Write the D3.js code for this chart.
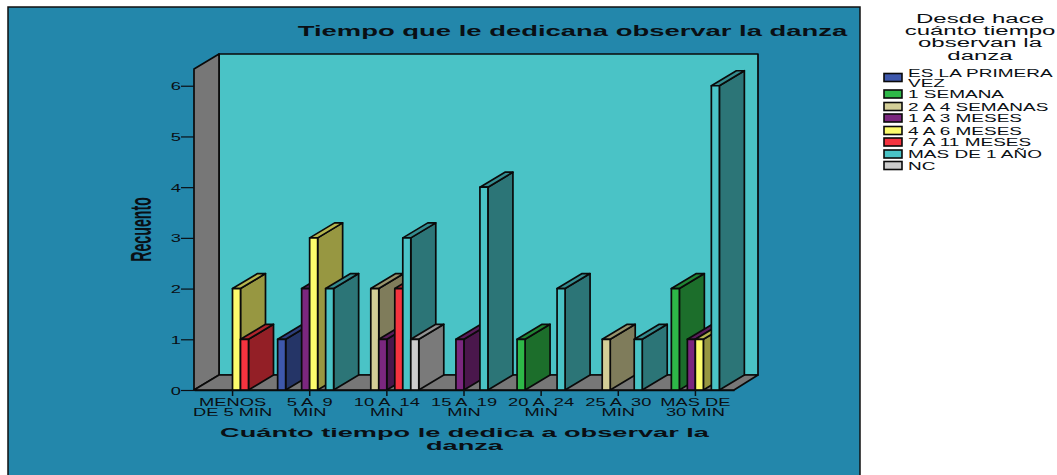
<!DOCTYPE html>
<html>
  <head>
    <meta charset="utf-8">
    <script src="https://d3js.org/d3.v7.min.js"></script>
    <title>Tiempo que le dedicana observar la danza</title>
    <style>
      body { margin: 0; background: #fff; overflow: hidden; }
      svg { display: block; }
      text { font-family: "Liberation Sans", Arial, sans-serif; fill: #0a0f14; white-space: pre; }
      .bold { font-weight: bold; }
    </style>
  </head>
  <body>
    <svg width="1057" height="475"></svg>
    <script>
      // data
      const categories = ['MENOS DE 5 MIN', '5 A 9 MIN', '10 A 14 MIN', '15 A 19 MIN', '20 A 24 MIN', '25 A 30 MIN', 'MAS DE 30 MIN'];
      const categoryLines = [['MENOS', 'DE 5 MIN'], ['5 A  9', 'MIN'], ['10 A  14', 'MIN'], ['15 A  19', 'MIN'], ['20 A  24', 'MIN'], ['25 A  30', 'MIN'], ['MAS DE', '30 MIN']];
      const seriesNames = ['ES LA PRIMERA VEZ', '1 SEMANA', '2 A 4 SEMANAS', '1 A 3 MESES', '4 A 6 MESES', '7 A 11 MESES', 'MAS DE 1 AÑO', 'NC'];
      const seriesColors = ['#3e58ac', '#2eb848', '#d3ce97', '#7b277f', '#fcfc6c', '#f5333f', '#4ac3c6', '#cccccc'];
      const primeraVez = [0, 1, 0, 0, 0, 0, 0];
      const unaSemana = [0, 0, 0, 0, 1, 0, 2];
      const dosACuatroSemanas = [0, 0, 2, 0, 0, 1, 0];
      const unoATresMeses = [0, 2, 1, 1, 0, 0, 1];
      const cuatroASeisMeses = [2, 3, 0, 0, 0, 0, 1];
      const sieteAOnceMeses = [1, 0, 2, 0, 0, 0, 0];
      const masDeUnAno = [0, 2, 3, 4, 2, 1, 6];
      const noContesta = [0, 0, 1, 0, 0, 0, 0];
      const seriesValues = [primeraVez, unaSemana, dosACuatroSemanas, unoATresMeses, cuatroASeisMeses, sieteAOnceMeses, masDeUnAno, noContesta];
      const yTicks = [0, 1, 2, 3, 4, 5, 6];
      const yTop = 6.33;

      const svg = d3.select('svg');
      const stretch = 1.83; // the original text is wide, squashed in height
      const titleStretch = 1.94;
      const depthX = 25, depthY = 15;
      const floorY = 390, wallTop = 69;
      const left = 194, right = 734;

      const x0 = d3.scaleBand().domain(categories).range([left, right]);
      const x1 = d3.scaleBand().domain(seriesNames).range([6.5, 70.5]);
      const y = d3.scaleLinear().domain([0, yTop]).range([floorY, wallTop]);

      // stretched text helper
      function label(g, str, px, py, size, anchor, sx, cls) {
        return g.append('text')
          .attr('class', cls || null)
          .attr('transform', `translate(${px},${py}) scale(${sx},1)`)
          .attr('text-anchor', anchor)
          .attr('font-size', size)
          .text(str);
      }

      // panel
      svg.append('rect').attr('x', 8).attr('y', 7).attr('width', 852).attr('height', 470)
        .attr('fill', '#2387ab').attr('stroke', '#111').attr('stroke-width', 1.5);

      // walls and floor
      const poly = (pts, fill) => svg.append('polygon')
        .attr('points', pts.map(p => p.join(',')).join(' '))
        .attr('fill', fill).attr('stroke', '#0a0a0a').attr('stroke-width', 1.7)
        .attr('stroke-linejoin', 'round');
      const backL = left + depthX, backR = right + depthX - 1;
      poly([[backL, y(yTop) - depthY], [backR, y(yTop) - depthY], [backR, floorY - depthY], [backL, floorY - depthY]], '#4ac3c6');
      poly([[left, y(yTop)], [backL, y(yTop) - depthY], [backL, floorY - depthY], [left, floorY]], '#777777');
      poly([[left, floorY], [backL, floorY - depthY], [backR, floorY - depthY], [right, floorY]], '#777777');

      // bars, drawn left to right so later ones cover the sides of earlier ones
      categories.forEach((cat, c) => {
        seriesNames.forEach((name, s) => {
          const v = seriesValues[s][c];
          if (!v) return;
          const col = d3.color(seriesColors[s]);
          const xa = x0(cat) + x1(name);
          const xb = xa + x1.bandwidth();
          const yv = y(v);
          const side = d3.rgb(col.r * 0.6, col.g * 0.6, col.b * 0.6);
          const top = d3.rgb(col.r * 0.72, col.g * 0.72, col.b * 0.72);
          poly([[xb, yv], [xb + depthX, yv - depthY], [xb + depthX, floorY - depthY], [xb, floorY]], side);
          poly([[xa, yv], [xa + depthX, yv - depthY], [xb + depthX, yv - depthY], [xb, yv]], top);
          poly([[xa, yv], [xb, yv], [xb, floorY], [xa, floorY]], seriesColors[s]);
        });
      });

      // y axis
      const yAxisG = svg.append('g').attr('transform', `translate(${left},0)`)
        .call(d3.axisLeft(y).tickValues(yTicks).tickSize(13).tickFormat(d3.format('d')));
      yAxisG.select('.domain').remove();
      yAxisG.selectAll('.tick line').attr('stroke', '#0a0f14').attr('stroke-width', 1.2);
      yAxisG.selectAll('.tick text')
        .attr('x', null).attr('dy', null).attr('y', 4)
        .attr('font-size', 10)
        .attr('font-family', null)
        .attr('text-anchor', 'end')
        .attr('transform', `translate(-13,0) scale(${stretch},1)`);

      // x axis
      const xAxisG = svg.append('g').attr('transform', `translate(0,${floorY})`)
        .call(d3.axisBottom(x0).tickSize(6).tickSizeOuter(0).tickFormat(''));
      xAxisG.select('.domain').attr('stroke', '#0a0a0a').attr('stroke-width', 1.7);
      xAxisG.selectAll('.tick line').attr('stroke', '#0a0f14').attr('stroke-width', 1.5);
      xAxisG.selectAll('.tick').each(function (d, i) {
        const tick = d3.select(this);
        tick.select('text').remove();
        categoryLines[i].forEach((ln, k) => label(tick, ln, 0, 16 + k * 9.5, 10, 'middle', stretch));
      });

      // titles
      label(svg, 'Tiempo que le dedicana observar la danza', 572.5, 35.5, 14, 'middle', titleStretch + 0.02, 'bold');
      label(svg, 'Cuánto tiempo le dedica a observar la', 464.5, 437, 13, 'middle', titleStretch * 14 / 13, 'bold');
      label(svg, 'danza', 464.5, 450, 13, 'middle', titleStretch * 14 / 13, 'bold');
      svg.append('text').attr('class', 'bold')
        .attr('transform', 'translate(151,229.5) rotate(-90) scale(0.49,1)')
        .attr('text-anchor', 'middle').attr('font-size', 29).text('Recuento');

      // legend
      const legendTitle = ['Desde hace', 'cuánto tiempo', 'observan la', 'danza'];
      legendTitle.forEach((t, i) => label(svg, t, 980, 23 + i * 12.2, 12, 'middle', 2));
      const legendY = [77.5, 94, 106.5, 118, 130.5, 142, 154, 165.5];
      const legendLines = [['ES LA PRIMERA', 'VEZ'], ['1 SEMANA'], ['2 A 4 SEMANAS'], ['1 A 3 MESES'], ['4 A 6 MESES'], ['7 A 11 MESES'], ['MAS DE 1 AÑO'], ['NC']];
      seriesNames.forEach((name, i) => {
        svg.append('rect').attr('x', 884).attr('y', legendY[i] - 4).attr('width', 18).attr('height', 8)
          .attr('fill', seriesColors[i]).attr('stroke', '#0a0a0a').attr('stroke-width', 1.6);
        legendLines[i].forEach((ln, k) => label(svg, ln, 908, legendY[i] + 4 - (legendLines[i].length > 1 ? 4.3 : 0) + k * 9.5, 10, 'start', 1.9));
      });
    </script>
  </body>
</html>
